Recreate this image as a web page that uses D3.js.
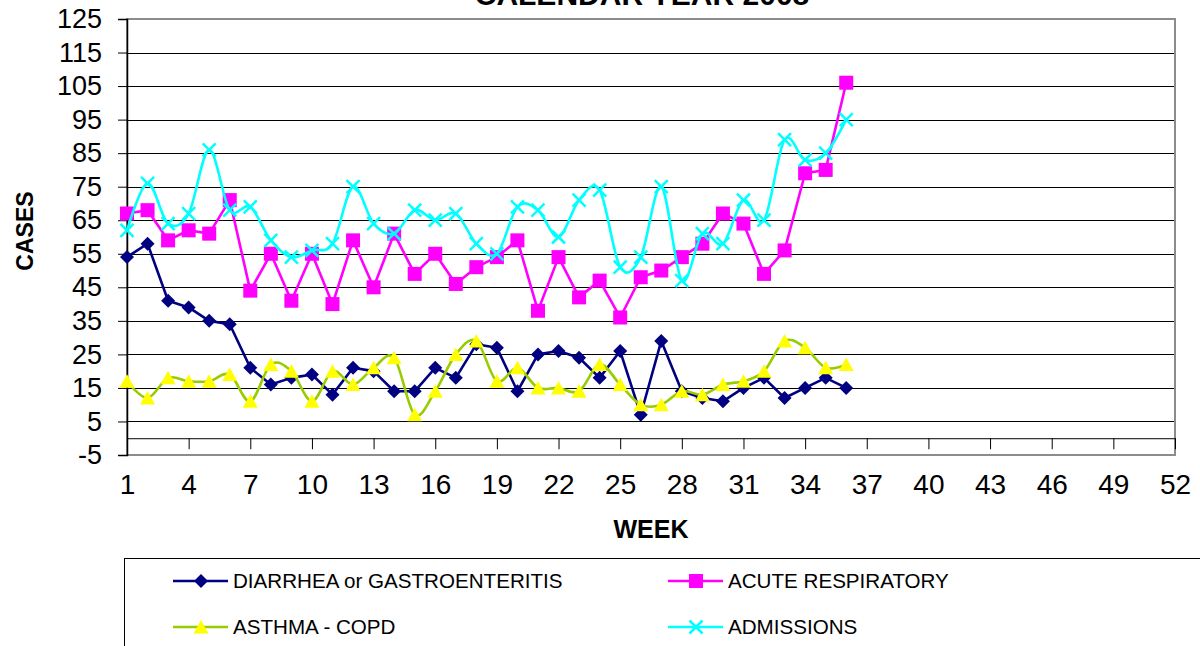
<!DOCTYPE html>
<html>
<head>
<meta charset="utf-8">
<script src="https://cdn.jsdelivr.net/npm/d3@7"></script>
<style>
  body { margin: 0; background: #fff; }
  text { font-family: "Liberation Sans", Arial, sans-serif; }
</style>
</head>
<body>
<script>
// weekly counts, calendar year 2008 (weeks 1..36 reported)
var weeks = d3.range(1, 37);
var diarrhea = [54, 58, 41, 39, 35, 34, 21, 16, 18, 19, 13, 21, 20, 14, 14, 21, 18, 28, 27, 14, 25, 26, 24, 18, 26, 7, 29, 14, 12, 11, 15, 18, 12, 15, 18, 15];
var acuteResp = [67, 68, 59, 62, 61, 71, 44, 55, 41, 55, 40, 59, 45, 61, 49, 55, 46, 51, 54, 59, 38, 54, 42, 47, 36, 48, 50, 54, 58, 67, 64, 49, 56, 79, 80, 106];
var asthma = [17, 12, 18, 17, 17, 19, 11, 22, 20, 11, 20, 16, 21, 24, 7, 14, 25, 29, 17, 21, 15, 15, 14, 22, 16, 10, 10, 14, 13, 16, 17, 20, 29, 27, 21, 22];
var admissions = [62, 76, 64, 67, 86, 68, 69, 59, 54, 56, 58, 75, 64, 61, 68, 65, 67, 58, 55, 69, 68, 60, 71, 74, 51, 54, 75, 47, 61, 58, 71, 65, 89, 83, 85, 95];

var xTicks = [1, 4, 7, 10, 13, 16, 19, 22, 25, 28, 31, 34, 37, 40, 43, 46, 49, 52];
var yTicks = [-5, 5, 15, 25, 35, 45, 55, 65, 75, 85, 95, 105, 115, 125];

var seriesNames = ["DIARRHEA or GASTROENTERITIS", "ACUTE RESPIRATORY", "ASTHMA - COPD", "ADMISSIONS"];

var width = 1200,
    height = 646;

var svg = d3.select("body").append("svg")
    .attr("width", width)
    .attr("height", height);

var x = d3.scaleLinear()
    .domain([1, 52])
    .range([127, 1175]);

var y = d3.scaleLinear()
    .domain([-5, 125])
    .range([455, 19]);

// gridlines
svg.append("g")
    .selectAll("line")
    .data(yTicks.filter(function (d) { return d > -5 && d < 125; }))
    .enter().append("line")
    .attr("x1", x(1))
    .attr("x2", x(52))
    .attr("y1", function (d) { return Math.round(y(d)) + 0.5; })
    .attr("y2", function (d) { return Math.round(y(d)) + 0.5; })
    .attr("stroke", "#000")
    .attr("stroke-width", 1);

// plot frame
svg.append("rect")
    .attr("x", x(1))
    .attr("y", y(125))
    .attr("width", x(52) - x(1))
    .attr("height", y(-5) - y(125))
    .attr("fill", "none")
    .attr("stroke", "#8c8c8c")
    .attr("stroke-width", 2);

// y axis
var yAxis = svg.append("g")
    .attr("transform", "translate(" + x(1) + ",0)")
    .call(d3.axisLeft(y)
        .tickValues(yTicks)
        .tickSize(9)
        .tickPadding(16)
        .tickFormat(function (d) { return String(d); }));
yAxis.select(".domain").attr("stroke", "#000").attr("stroke-width", 1.5);
yAxis.selectAll("line").attr("stroke", "#000");
yAxis.selectAll("text")
    .attr("font-size", "27px")
    .attr("font-family", "Liberation Sans, Arial, sans-serif")
    .attr("fill", "#000");

// x axis crossing at 0
var xAxis = svg.append("g")
    .attr("transform", "translate(0," + y(0) + ")")
    .call(d3.axisBottom(x)
        .tickValues(xTicks)
        .tickSize(11)
        .tickSizeOuter(0)
        .tickPadding(25)
        .tickFormat(function (d) { return String(d); }));
xAxis.select(".domain").attr("stroke", "#000").attr("stroke-width", 1);
xAxis.selectAll("line").attr("stroke", "#000");
xAxis.selectAll("text")
    .attr("font-size", "28px")
    .attr("font-family", "Liberation Sans, Arial, sans-serif")
    .attr("fill", "#000");

// markers
function marker(sel, type, color) {
    if (type == "diamond") {
        sel.append("path").attr("d", "M0,-7L7,0L0,7L-7,0Z").attr("fill", color);
    } else if (type == "square") {
        sel.append("rect").attr("x", -7).attr("y", -7).attr("width", 14).attr("height", 14).attr("fill", color);
    } else if (type == "triangle") {
        sel.append("path").attr("d", "M0,-7L7.5,6.5L-7.5,6.5Z").attr("fill", color);
    } else {
        sel.append("path").attr("d", "M-6.5,-6.5L6.5,6.5M6.5,-6.5L-6.5,6.5")
            .attr("stroke", color).attr("stroke-width", 2.5).attr("fill", "none");
    }
}

var series = [
    { name: seriesNames[0], values: diarrhea, line: "#000080", fill: "#000080", sym: "diamond", smooth: false },
    { name: seriesNames[1], values: acuteResp, line: "#ff00ff", fill: "#ff00ff", sym: "square", smooth: false },
    { name: seriesNames[2], values: asthma, line: "#99cc00", fill: "#ffff00", sym: "triangle", smooth: true },
    { name: seriesNames[3], values: admissions, line: "#00ffff", fill: "#00ffff", sym: "x", smooth: true }
];

series.forEach(function (s) {
    var line = d3.line()
        .x(function (d, i) { return x(weeks[i]); })
        .y(function (d) { return y(d); })
        .curve(s.smooth ? d3.curveCardinal.tension(0) : d3.curveLinear);

    svg.append("path")
        .datum(s.values)
        .attr("d", line)
        .attr("fill", "none")
        .attr("stroke", s.line)
        .attr("stroke-width", 2.6)
        .attr("stroke-linejoin", "round");

    svg.append("g")
        .selectAll("g")
        .data(s.values)
        .enter().append("g")
        .attr("transform", function (d, i) { return "translate(" + x(weeks[i]) + "," + y(d) + ")"; })
        .each(function () { marker(d3.select(this), s.sym, s.fill); });
});

// titles
svg.append("text")
    .attr("x", 642)
    .attr("y", 5)
    .attr("text-anchor", "middle")
    .attr("font-weight", "bold")
    .attr("font-size", "30px")
    .text("CALENDAR YEAR 2008");

svg.append("text")
    .attr("transform", "translate(33,231) rotate(-90)")
    .attr("text-anchor", "middle")
    .attr("font-weight", "bold")
    .attr("font-size", "23px")
    .text("CASES");

svg.append("text")
    .attr("x", 651)
    .attr("y", 538)
    .attr("text-anchor", "middle")
    .attr("font-weight", "bold")
    .attr("font-size", "25px")
    .text("WEEK");

// legend
svg.append("rect")
    .attr("x", 124.5)
    .attr("y", 558.5)
    .attr("width", 1100)
    .attr("height", 120)
    .attr("fill", "#fff")
    .attr("stroke", "#000")
    .attr("stroke-width", 1);

var legendPos = [[173, 581], [668, 581], [173, 627], [668, 627]];

var lg = svg.append("g")
    .selectAll("g")
    .data(series)
    .enter().append("g")
    .attr("transform", function (d, i) { return "translate(" + legendPos[i][0] + "," + legendPos[i][1] + ")"; });

lg.append("line")
    .attr("x1", 0)
    .attr("x2", 55)
    .attr("stroke", function (d) { return d.line; })
    .attr("stroke-width", 2.6);

lg.each(function (d) {
    var m = d3.select(this).append("g").attr("transform", "translate(28,0)");
    marker(m, d.sym, d.fill);
});

lg.append("text")
    .attr("x", 60)
    .attr("dy", "0.36em")
    .attr("font-size", "20.6px")
    .text(function (d) { return d.name; });
</script>
</body>
</html>
